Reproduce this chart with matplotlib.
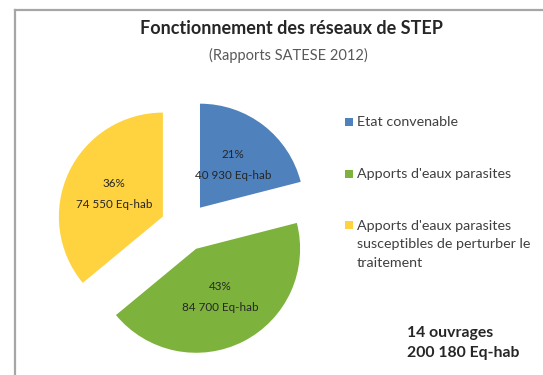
import matplotlib.pyplot as plt
from matplotlib.lines import Line2D
from matplotlib.patches import Rectangle

categories = ["Etat convenable",
              "Apports d'eaux parasites",
              "Apports d'eaux parasites\nsusceptibles de perturber le\ntraitement"]
shares = [21, 43, 36]
eq_hab = [40930, 84700, 74550]
n_ouvrages = 14
colors = ["#4F81BD", "#7DB33C", "#FFD23F"]

plt.rcParams['font.family'] = ['Lato', 'DejaVu Sans']

W, H = 543, 375
fig = plt.figure(figsize=(W / 100, H / 100), dpi=100)
fig.patch.set_facecolor('white')


def fx(x):
    return x / W


def fy(y):
    return 1 - y / H


def fmt(v):
    return f"{v:,}".replace(",", " ")


# grey frame (top and left edges)
fig.add_artist(Line2D([fx(15), fx(15)], [0, fy(10)], color='#a6a6a6', lw=1.6))
fig.add_artist(Line2D([fx(15), 1], [fy(10), fy(10)], color='#a6a6a6', lw=1.6))

fig.text(fx(291), fy(29), "Fonctionnement des réseaux de STEP",
         ha='center', va='center', fontsize=13, fontweight='bold', color='#262626')
fig.text(fx(288), fy(55), "(Rapports SATESE 2012)",
         ha='center', va='center', fontsize=10.5, color='#595959')

# pie, 1 data unit = 104 px
r_px = 104
lim = 1.45
ax = fig.add_axes([fx(185 - lim * r_px), fy(227 + lim * r_px),
                   2 * lim * r_px / W, 2 * lim * r_px / H])
wedges, _, autotexts = ax.pie(shares, colors=colors, startangle=90, counterclock=False,
                              explode=[0.235] * 3, autopct='%d', pctdistance=0.52,
                              wedgeprops=dict(linewidth=0),
                              textprops=dict(fontsize=8.4, color='#262626'))
for t, s, v in zip(autotexts, shares, eq_hab):
    t.set_text(f"{s}%\n{fmt(v)} Eq-hab")
    t.set_linespacing(2.1)
ax.set_xlim(-lim, lim)
ax.set_ylim(-lim, lim)
ax.axis('off')

# legend
for i, (lab, c) in enumerate(zip(categories, colors)):
    y = 122 + i * 51.5
    multi = '\n' in lab
    fig.add_artist(Rectangle((fx(345), fy(y + 4)), 8 / W, 8 / H, color=c, lw=0))
    fig.text(fx(357), fy(y - 5) if multi else fy(y), lab, ha='left',
             va='top' if multi else 'center',
             fontsize=10.3, color='#404040', linespacing=1.65)

fig.text(fx(407), fy(333), f"{n_ouvrages} ouvrages", ha='left', va='center',
         fontsize=11.3, fontweight='bold', color='#262626')
fig.text(fx(407), fy(353), f"{fmt(sum(eq_hab))} Eq-hab", ha='left', va='center',
         fontsize=11.3, fontweight='bold', color='#262626')

fig.savefig('out.png', dpi=100, facecolor='white')
